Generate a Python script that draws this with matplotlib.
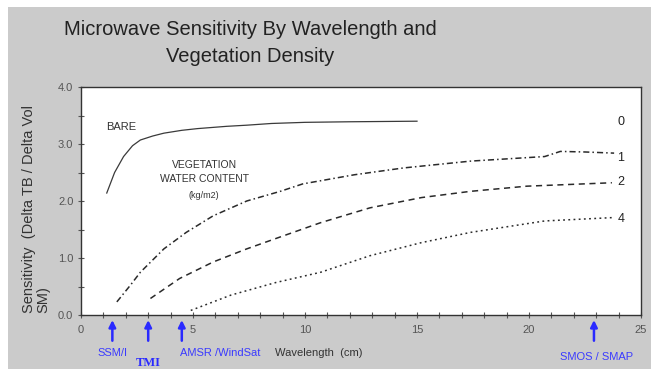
import matplotlib
matplotlib.use('Agg')
import matplotlib.pyplot as plt
from matplotlib.patches import Rectangle

plt.rcParams['font.family'] = ['Liberation Sans', 'DejaVu Sans']

# Data (wavelength in cm, sensitivity)
wl_bare = [1.15, 1.5, 1.9, 2.3, 2.65, 3.2, 3.7, 4.5, 5.2, 6.5, 7.4, 8.5, 10, 12, 15]
s_bare = [2.14, 2.5, 2.78, 2.97, 3.07, 3.14, 3.19, 3.24, 3.27, 3.31, 3.33, 3.36, 3.38, 3.39, 3.40]

wl_1 = [1.6, 2.2, 2.65, 3.7, 4.7, 5.9, 7.4, 8.9, 9.9, 12.2, 14.4, 17.4, 20.7, 21.4, 22.5, 23.8]
s_1 = [0.23, 0.52, 0.75, 1.16, 1.45, 1.74, 2.0, 2.17, 2.3, 2.46, 2.58, 2.70, 2.78, 2.87, 2.86, 2.84]

wl_2 = [3.1, 4.4, 5.9, 7.4, 8.9, 10.7, 12.9, 15.2, 17.4, 19.9, 23.7]
s_2 = [0.29, 0.64, 0.93, 1.16, 1.37, 1.62, 1.88, 2.06, 2.17, 2.26, 2.32]

wl_4 = [4.9, 6.7, 8.7, 10.7, 12.9, 15.2, 17.4, 20.7, 23.8]
s_4 = [0.08, 0.35, 0.57, 0.75, 1.04, 1.27, 1.45, 1.65, 1.71]

curve_labels = ['0', '1', '2', '4']
curve_label_y = [3.39, 2.76, 2.34, 1.68]

# Sensor wavelengths and names
sensor_wl = [1.4, 3.0, 4.5, 22.9]
sensor_names = ['SSM/I', 'TMI', 'AMSR /WindSat', 'SMOS / SMAP']

fig = plt.figure(figsize=(6.51, 3.69), dpi=100)
fig.patch.set_facecolor('white')
# gray slide background with a thin white border at top/left
fig.patches.append(Rectangle((8 / 651, 0), 1, 1 - 7 / 369, transform=fig.transFigure,
                             facecolor='#cbcbcb', edgecolor='none', zorder=-10))

ax = fig.add_axes([81 / 651, 1 - 315 / 369, 560 / 651, 228 / 369])
ax.set_facecolor('white')

ax.plot(wl_bare, s_bare, color='#3a3a3a', lw=0.9)
ax.plot(wl_1, s_1, color='#2a2a2a', lw=1.1, linestyle=(0, (4, 2, 1, 2)))
ax.plot(wl_2, s_2, color='#2a2a2a', lw=1.1, linestyle=(0, (4, 3)))
ax.plot(wl_4, s_4, color='#2a2a2a', lw=1.1, linestyle=(0, (1.2, 2.2)))

ax.set_xlim(0, 25)
ax.set_ylim(0, 4)
ax.set_xticks([0, 5, 10, 15, 20, 25])
ax.set_xticks(range(0, 26), minor=True)
ax.set_yticks([0, 1, 2, 3, 4])
ax.set_yticks([0.5, 1.5, 2.5, 3.5], minor=True)
ax.set_yticklabels(['0.0', '1.0', '2.0', '3.0', '4.0'])
ax.tick_params(which='both', direction='inout', length=4, width=0.8, colors='#555555',
               labelsize=8, labelcolor='#555555')
ax.tick_params(axis='x', pad=5)
for sp in ax.spines.values():
    sp.set_color('#333333')
    sp.set_linewidth(1.0)

# annotations inside the plot
ax.text(1.1, 3.30, 'BARE', fontsize=8, color='#333333', va='center', ha='left')
ax.text(5.5, 2.64, 'VEGETATION', fontsize=7.5, color='#333333', ha='center', va='center')
ax.text(5.5, 2.38, 'WATER CONTENT', fontsize=7.5, color='#333333', ha='center', va='center')
ax.text(5.5, 2.09, '(kg/m2)', fontsize=6.5, color='#333333', ha='center', va='center')
for lab, yv in zip(curve_labels, curve_label_y):
    ax.text(24.1, yv, lab, fontsize=9, color='#222222', ha='center', va='center')

# sensor arrows below the axis
trans = ax.get_xaxis_transform()
for wl in sensor_wl:
    ax.annotate('', xy=(wl, -0.01), xytext=(wl, -0.125), xycoords=trans, textcoords=trans,
                arrowprops=dict(arrowstyle='-|>', color='#2a2aff', lw=1.8, mutation_scale=10),
                annotation_clip=False)
ax.text(1.4, -0.165, 'SSM/I', transform=trans, color='#3a3aff', fontsize=8, ha='center', va='center')
ax.text(3.0, -0.21, 'TMI', transform=trans, color='#2a2aff', fontsize=9, ha='center', va='center',
        fontfamily=['Liberation Serif', 'DejaVu Serif'], fontweight='bold')
ax.text(6.2, -0.165, 'AMSR /WindSat', transform=trans, color='#3a3aff', fontsize=8, ha='center', va='center')
ax.text(23.0, -0.185, 'SMOS / SMAP', transform=trans, color='#3a3aff', fontsize=8, ha='center', va='center')
ax.text(10.6, -0.165, 'Wavelength  (cm)', transform=trans, color='#333333', fontsize=8, ha='center', va='center')

fig.text(36 / 651, 1 - 313 / 369, 'Sensitivity  (Delta TB / Delta Vol\nSM)', rotation=90,
         ha='center', va='bottom', multialignment='left', fontsize=10.5, color='#333333',
         linespacing=1.05)

fig.text(250 / 651, 1 - 43 / 369, 'Microwave Sensitivity By Wavelength and\nVegetation Density',
         ha='center', va='center', fontsize=14.5, color='#222222', linespacing=1.55)

fig.savefig('out.png', dpi=100)
